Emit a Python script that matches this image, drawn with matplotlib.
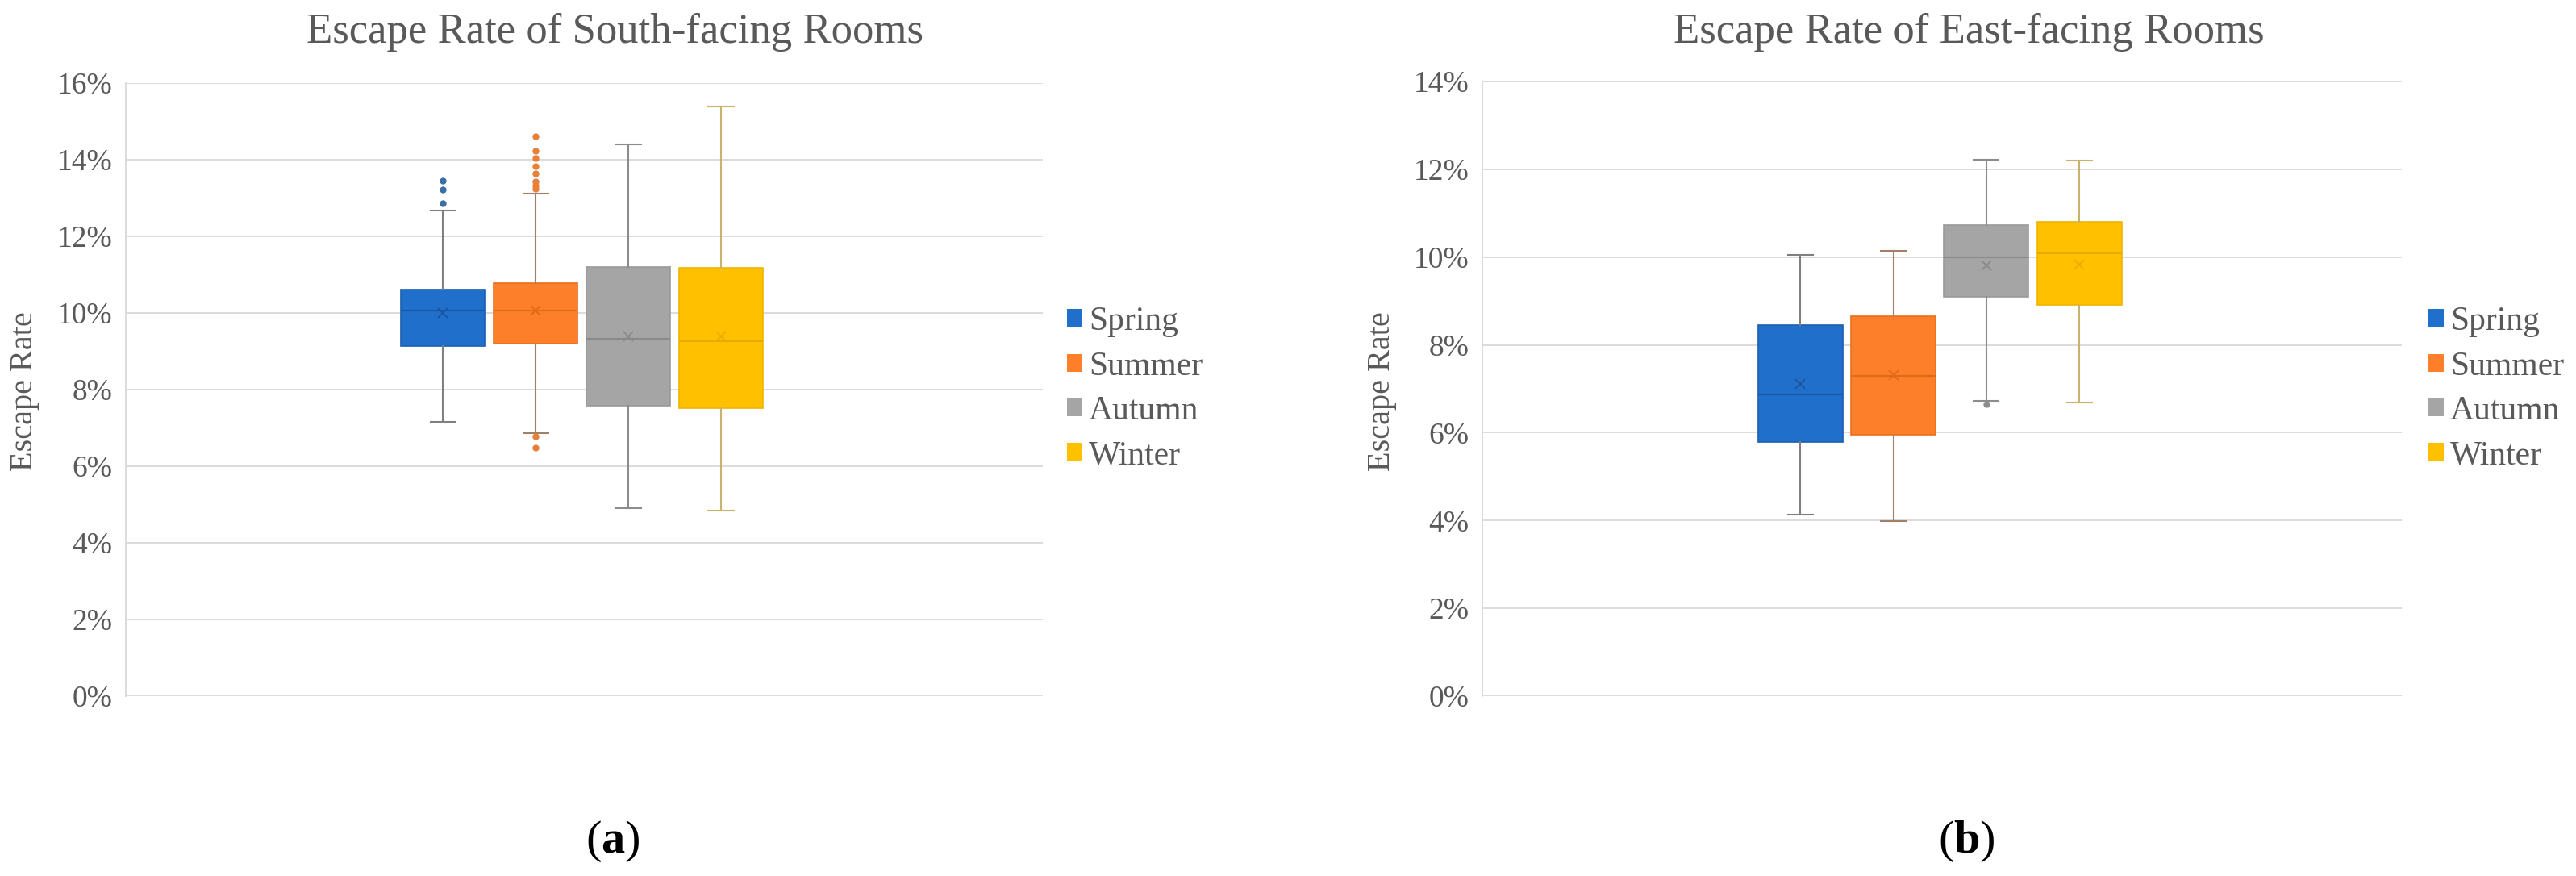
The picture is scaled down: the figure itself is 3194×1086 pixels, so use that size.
import numpy as np
import matplotlib.pyplot as plt
from matplotlib.patches import Patch
from matplotlib.ticker import PercentFormatter, MultipleLocator

# Fonte serifada parecida com a do grafico original
plt.rcParams['font.family'] = ['Liberation Serif', 'DejaVu Serif']
plt.rcParams['mathtext.fontset'] = 'custom'
plt.rcParams['mathtext.rm'] = 'Liberation Serif'
plt.rcParams['mathtext.bf'] = 'Liberation Serif:bold'

# Estacoes do ano (series)
estacoes = ['Spring', 'Summer', 'Autumn', 'Winter']

# Quartos voltados para o sul (valores em %)
sul_q1 = [9.14, 9.21, 7.59, 7.51]
sul_mediana = [10.06, 10.06, 9.33, 9.26]
sul_q3 = [10.62, 10.78, 11.20, 11.19]
sul_min = [7.16, 6.87, 4.90, 4.84]
sul_max = [12.67, 13.12, 14.41, 15.40]
sul_media = [10.00, 10.06, 9.39, 9.39]
sul_outliers = [[13.46, 13.22, 12.86],
                [14.62, 14.24, 14.04, 13.84, 13.64, 13.43, 13.32, 13.25, 6.78, 6.49],
                [],
                []]

# Quartos voltados para o leste (valores em %)
leste_q1 = [5.78, 5.96, 9.10, 8.91]
leste_mediana = [6.88, 7.30, 10.00, 10.09]
leste_q3 = [8.45, 8.66, 10.73, 10.80]
leste_min = [4.13, 3.98, 6.72, 6.69]
leste_max = [10.05, 10.14, 12.22, 12.21]
leste_media = [7.11, 7.31, 9.81, 9.83]
leste_outliers = [[], [], [6.66], []]

# Cores das series
cor_caixa = ['#1f6fcb', '#fd7f2a', '#a5a5a5', '#ffc000']
cor_borda = ['#1b5fb0', '#e8711f', '#999999', '#f0b400']
cor_linha = ['#1a55a0', '#e06a18', '#8a8a8a', '#e8ac00']
cor_bigode = ['#808080', '#a08068', '#8c8c8c', '#c9b26b']
cor_ponto = ['#3a6ea8', '#e8803a', '#8c8c8c', '#d8a800']

cinza_texto = '#595959'
cinza_grade = '#d9d9d9'


def monta_stats(q1, med, q3, lo, hi, media, out):
    # Cria a lista de dicionarios que o bxp precisa
    stats = []
    for k in range(len(q1)):
        stats.append({'q1': q1[k], 'med': med[k], 'q3': q3[k],
                      'whislo': lo[k], 'whishi': hi[k], 'mean': media[k],
                      'fliers': np.array(out[k])})
    return stats


def desenha(ax, stats, ymax):
    r = ax.bxp(stats, positions=[1, 2, 3, 4], widths=0.91, capwidths=0.27,
               patch_artist=True, showmeans=True, manage_ticks=False)
    for k in range(4):
        r['boxes'][k].set_facecolor(cor_caixa[k])
        r['boxes'][k].set_edgecolor(cor_borda[k])
        r['boxes'][k].set_linewidth(1.2)
        r['medians'][k].set_color(cor_linha[k])
        r['medians'][k].set_linewidth(1.5)
        r['means'][k].set_marker('x')
        r['means'][k].set_markersize(9)
        r['means'][k].set_markeredgecolor(cor_linha[k])
        r['means'][k].set_markeredgewidth(1.3)
        r['fliers'][k].set_marker('o')
        r['fliers'][k].set_markersize(5)
        r['fliers'][k].set_markerfacecolor(cor_ponto[k])
        r['fliers'][k].set_markeredgecolor(cor_ponto[k])
        for a in r['whiskers'][2*k:2*k+2] + r['caps'][2*k:2*k+2]:
            a.set_color(cor_bigode[k])
            a.set_linewidth(1.5)

    ax.set_xlim(-2.42, 7.47)
    ax.set_ylim(0, ymax)
    ax.yaxis.set_major_locator(MultipleLocator(2))
    ax.yaxis.set_major_formatter(PercentFormatter(xmax=100, decimals=0))
    ax.grid(axis='y', color=cinza_grade, linewidth=1.3)
    ax.set_axisbelow(True)
    ax.set_xticks([])
    for lado in ['top', 'right', 'bottom']:
        ax.spines[lado].set_visible(False)
    ax.spines['left'].set_color(cinza_grade)
    ax.spines['left'].set_linewidth(1.3)
    ax.tick_params(axis='y', length=0, pad=12, labelsize=27, labelcolor=cinza_texto)


fig = plt.figure(figsize=(31.94, 10.86), dpi=100)

ax1 = fig.add_axes([0.0488, 0.2053, 0.356, 0.6998])
ax2 = fig.add_axes([0.5755, 0.2053, 0.3569, 0.7016])

desenha(ax1, monta_stats(sul_q1, sul_mediana, sul_q3, sul_min, sul_max, sul_media, sul_outliers), 16)
desenha(ax2, monta_stats(leste_q1, leste_mediana, leste_q3, leste_min, leste_max, leste_media, leste_outliers), 14)

# Titulos e rotulos
fig.text(763/3194, 1 - 40/1086, 'Escape Rate of South-facing Rooms', ha='center', va='center',
         fontsize=38, color=cinza_texto)
fig.text(2441/3194, 1 - 40/1086, 'Escape Rate of East-facing Rooms', ha='center', va='center',
         fontsize=38, color=cinza_texto)
fig.text(31/3194, 1 - 485/1086, 'Escape Rate', rotation=90, ha='center', va='center',
         fontsize=29, color=cinza_texto)
fig.text(1714/3194, 1 - 485/1086, 'Escape Rate', rotation=90, ha='center', va='center',
         fontsize=29, color=cinza_texto)

# Rotulos (a) e (b) com a letra em negrito
fig.text(760/3194, 1 - 1043/1086, r'($\mathbf{a}$)', ha='center', va='center', fontsize=42)
fig.text(2438/3194, 1 - 1043/1086, r'($\mathbf{b}$)', ha='center', va='center', fontsize=42)

# Legendas
handles = [Patch(facecolor=cor_caixa[k], edgecolor='none') for k in range(4)]
for x0 in [1323, 3011]:
    fig.legend(handles, estacoes, loc='center left', bbox_to_anchor=(x0/3194, 1 - 482/1086),
               frameon=False, fontsize=30, labelcolor=cinza_texto, borderpad=0,
               borderaxespad=0, handlelength=0.45, handleheight=0.45,
               handletextpad=0.2, labelspacing=0.4)

fig.savefig('out.png', dpi=100, facecolor='white')
